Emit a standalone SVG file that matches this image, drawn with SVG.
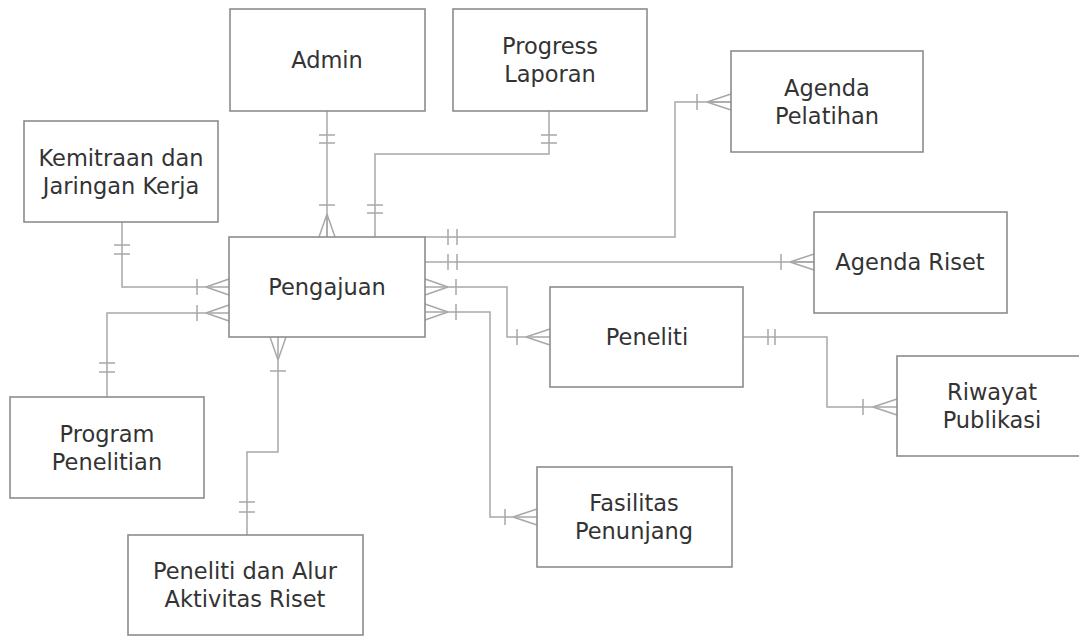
<svg xmlns="http://www.w3.org/2000/svg" width="1079" height="637" viewBox="0 0 1079 637">
<style>
.box{fill:#fff;stroke:#8c8c8c;stroke-width:1.6}
.t{font-family:"DejaVu Sans",Verdana,sans-serif;font-size:22.5px;fill:#333;text-anchor:middle}
.c{fill:none;stroke:#a8a8a8;stroke-width:1.5}
</style>
<rect width="1079" height="637" fill="#fff"/>
<g id="connectors" class="c">
<!-- Admin - Pengajuan -->
<path d="M327,111V237"/>
<path d="M319,135H335M319,143H335"/>
<path d="M319,205H335M327,214L319,237M327,214V237M327,214L335,237"/>
<!-- Progress - Pengajuan -->
<path d="M549,111V154H375V237"/>
<path d="M541,135H557M541,143H557"/>
<path d="M367,205H383M367,213H383"/>
<!-- Agenda Pelatihan -->
<path d="M425,237H675V102H731"/>
<path d="M448,229V245M457,229V245"/>
<path d="M697,94V110M707,102L731,94M707,102H731M707,102L731,110"/>
<!-- Agenda Riset -->
<path d="M425,262H814"/>
<path d="M448,254V270M457,254V270"/>
<path d="M781,254V270M790,262L814,254M790,262H814M790,262L814,270"/>
<!-- Peneliti -->
<path d="M425,287H507V337H550"/>
<path d="M448,287L425,279M448,287L425,295M456,279V295"/>
<path d="M517,329V345M526,337L550,329M526,337L550,345"/>
<!-- Fasilitas -->
<path d="M425,312H490V517H537"/>
<path d="M448,312L425,304M448,312L425,320M456,304V320"/>
<path d="M505,509V525M513,517L537,509M513,517L537,525"/>
<!-- Peneliti - Riwayat -->
<path d="M743,337H827V407H897"/>
<path d="M768,329V345M775,329V345"/>
<path d="M863,399V415M873,407L897,399M873,407L897,415"/>
<!-- Kemitraan -->
<path d="M122,222V287H229"/>
<path d="M114,245H130M114,254H130"/>
<path d="M197,279V295M206,287L229,279M206,287L229,295"/>
<!-- Program Penelitian -->
<path d="M107,397V313H229"/>
<path d="M99,363H115M99,372H115"/>
<path d="M197,305V321M206,313L229,305M206,313L229,321"/>
<!-- Peneliti dan Alur -->
<path d="M278,337V452H247V535"/>
<path d="M278,360L270,337M278,360L286,337M270,371H286"/>
<path d="M239,502H255M239,512H255"/>
</g>
<g id="admin"><rect class="box" x="230" y="9" width="195" height="102"/><text class="t" x="327" y="68">Admin</text></g>
<g id="progress-laporan"><rect class="box" x="453" y="9" width="194" height="102"/><text class="t" x="550" y="54">Progress</text><text class="t" x="550" y="82">Laporan</text></g>
<g id="agenda-pelatihan"><rect class="box" x="731" y="51" width="192" height="101"/><text class="t" x="827" y="96">Agenda</text><text class="t" x="827" y="124">Pelatihan</text></g>
<g id="kemitraan"><rect class="box" x="24" y="121" width="194" height="101"/><text class="t" x="121" y="166">Kemitraan dan</text><text class="t" x="121" y="194">Jaringan Kerja</text></g>
<g id="pengajuan"><rect class="box" x="229" y="237" width="196" height="100"/><text class="t" x="327" y="295">Pengajuan</text></g>
<g id="agenda-riset"><rect class="box" x="814" y="212" width="193" height="101"/><text class="t" x="910" y="270">Agenda Riset</text></g>
<g id="peneliti"><rect class="box" x="550" y="287" width="193" height="100"/><text class="t" x="647" y="345">Peneliti</text></g>
<g id="riwayat-publikasi"><rect class="box" x="897" y="356" width="190" height="100"/><text class="t" x="992" y="400">Riwayat</text><text class="t" x="992" y="428">Publikasi</text></g>
<g id="program-penelitian"><rect class="box" x="10" y="397" width="194" height="101"/><text class="t" x="107" y="442">Program</text><text class="t" x="107" y="470">Penelitian</text></g>
<g id="fasilitas-penunjang"><rect class="box" x="537" y="467" width="195" height="100"/><text class="t" x="634" y="511">Fasilitas</text><text class="t" x="634" y="539">Penunjang</text></g>
<g id="peneliti-alur"><rect class="box" x="128" y="535" width="235" height="100"/><text class="t" x="245" y="579">Peneliti dan Alur</text><text class="t" x="245" y="607">Aktivitas Riset</text></g>
</svg>
